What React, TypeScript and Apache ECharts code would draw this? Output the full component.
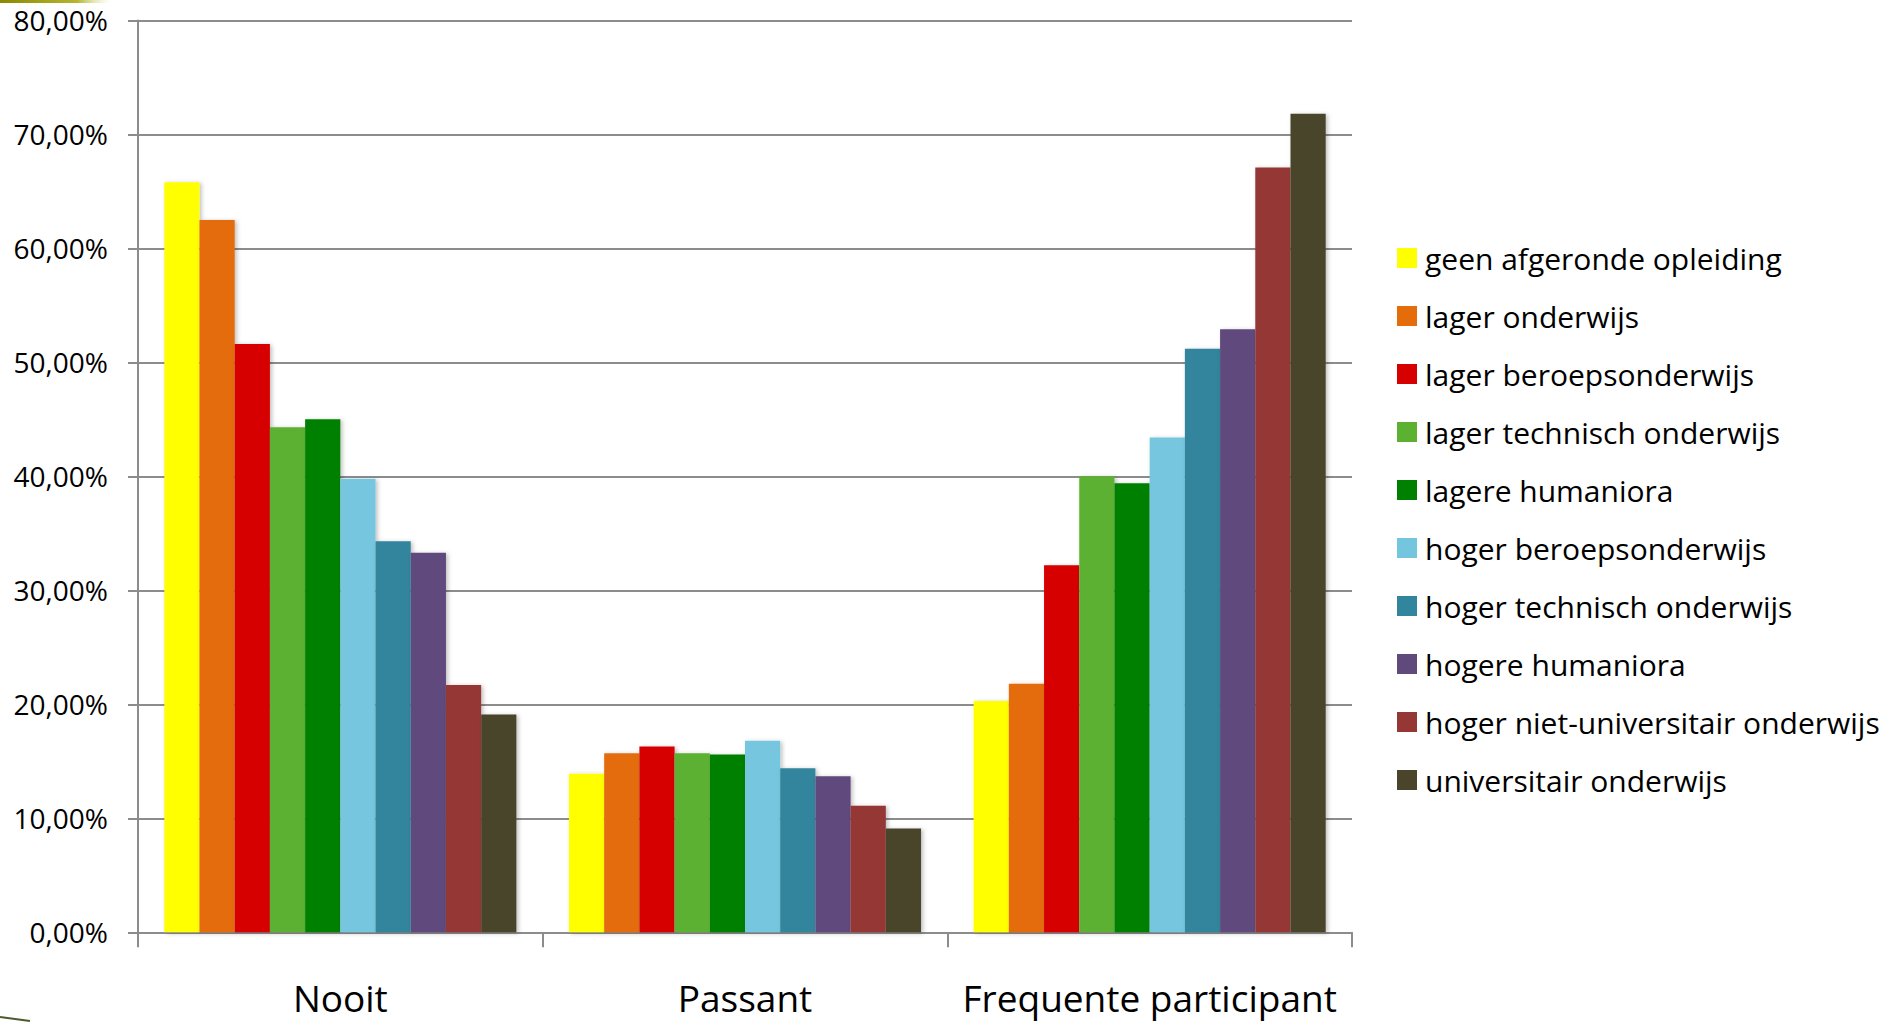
import React, { useEffect, useRef } from "react";
import * as echarts from "echarts";

const categories = ["Nooit", "Passant", "Frequente participant"];

const seriesNames = [
  "geen afgeronde opleiding",
  "lager onderwijs",
  "lager beroepsonderwijs",
  "lager technisch onderwijs",
  "lagere humaniora",
  "hoger beroepsonderwijs",
  "hoger technisch onderwijs",
  "hogere humaniora",
  "hoger niet-universitair onderwijs",
  "universitair onderwijs",
];

const geenAfgerondeOpleiding = [65.8, 13.9, 20.3];
const lagerOnderwijs = [62.5, 15.7, 21.8];
const lagerBeroepsonderwijs = [51.6, 16.3, 32.2];
const lagerTechnischOnderwijs = [44.3, 15.7, 40.0];
const lagereHumaniora = [45.0, 15.6, 39.4];
const hogerBeroepsonderwijs = [39.8, 16.8, 43.4];
const hogerTechnischOnderwijs = [34.3, 14.4, 51.2];
const hogereHumaniora = [33.3, 13.7, 52.9];
const hogerNietUniversitair = [21.7, 11.1, 67.1];
const universitairOnderwijs = [19.1, 9.1, 71.8];

const seriesValues = [
  geenAfgerondeOpleiding,
  lagerOnderwijs,
  lagerBeroepsonderwijs,
  lagerTechnischOnderwijs,
  lagereHumaniora,
  hogerBeroepsonderwijs,
  hogerTechnischOnderwijs,
  hogereHumaniora,
  hogerNietUniversitair,
  universitairOnderwijs,
];

const colors = [
  "#FFFF00",
  "#E46C0A",
  "#D60000",
  "#5DB130",
  "#008000",
  "#74C6DE",
  "#31859C",
  "#604A7B",
  "#953735",
  "#4A452A",
];

const FONT = "'Open Sans', 'Noto Sans', sans-serif";

export default function App() {
  const ref = useRef<HTMLDivElement>(null);

  useEffect(() => {
    if (!ref.current) return;
    const chart = echarts.init(ref.current, undefined, { renderer: "svg" });
    const option = {
      animation: false,
      backgroundColor: "#ffffff",
      color: colors,
      textStyle: { fontFamily: FONT },
      grid: {
        left: 138,
        right: 531,
        top: 20.4,
        bottom: 89.7,
        containLabel: false,
      },
      legend: {
        orient: "vertical",
        left: 1397,
        top: 243,
        padding: 0,
        itemWidth: 20,
        itemHeight: 20,
        itemGap: 28,
        icon: "rect",
        data: seriesNames,
        textStyle: {
          fontFamily: FONT,
          fontSize: 30,
          color: "#000000",
          padding: [0, 0, 0, 3],
        },
      },
      xAxis: {
        type: "category",
        data: categories,
        axisLine: { show: true, lineStyle: { color: "#8c8c8c", width: 2 } },
        axisTick: {
          show: true,
          interval: 0,
          length: 15,
          lineStyle: { color: "#8c8c8c", width: 2 },
        },
        axisLabel: {
          interval: 0,
          fontFamily: FONT,
          fontSize: 37,
          color: "#000000",
          margin: 47,
        },
      },
      yAxis: {
        type: "value",
        min: 0,
        max: 80,
        interval: 10,
        axisLine: { show: true, lineStyle: { color: "#8c8c8c", width: 2 } },
        axisTick: {
          show: true,
          length: 10,
          lineStyle: { color: "#8c8c8c", width: 2 },
        },
        splitLine: { show: true, lineStyle: { color: "#8c8c8c", width: 2 } },
        axisLabel: {
          fontFamily: FONT,
          fontSize: 28,
          color: "#000000",
          margin: 30,
          formatter: (v: number) => v.toFixed(2).replace(".", ",") + "%",
        },
      },
      series: seriesNames.map((name, i) => ({
        name,
        type: "bar",
        data: seriesValues[i],
        barGap: "0%",
        barCategoryGap: "13%",
        itemStyle: {
          color: colors[i],
          shadowBlur: 4,
          shadowColor: "rgba(0,0,0,0.25)",
          shadowOffsetX: 2,
          shadowOffsetY: 1,
        },
      })),
      graphic: [
        {
          type: "rect",
          left: 0,
          top: 0,
          shape: { x: 0, y: 0, width: 110, height: 3 },
          style: {
            fill: new echarts.graphic.LinearGradient(0, 0, 1, 0, [
              { offset: 0, color: "#8a8a00" },
              { offset: 0.7, color: "#b5b530" },
              { offset: 1, color: "rgba(220,220,150,0)" },
            ]),
          },
        },
        {
          type: "line",
          shape: { x1: 0, y1: 1017, x2: 30, y2: 1021 },
          style: { stroke: "#4d5a2e", lineWidth: 2 },
        },
      ],
    };
    chart.setOption(option);
    return () => chart.dispose();
  }, []);

  return (
    <div
      ref={ref}
      style={{ position: "fixed", left: 0, top: 0, width: 1883, height: 1022 }}
    />
  );
}
